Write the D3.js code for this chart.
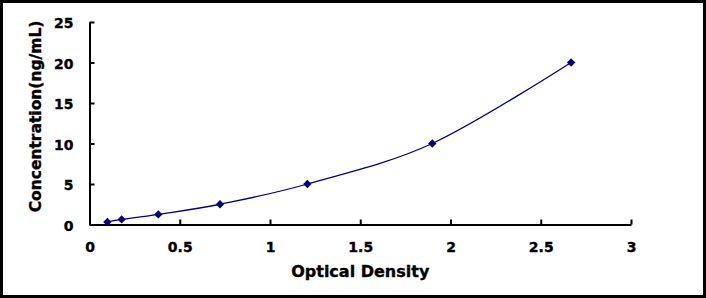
<!DOCTYPE html>
<html>
<head>
<meta charset="utf-8">
<script src="https://cdn.jsdelivr.net/npm/d3@7"></script>
<style>
  body { margin: 0; background: #fff; }
  text { font-family: "DejaVu Sans", sans-serif; font-weight: bold; fill: #000; stroke: #000; stroke-width: 0.35px; }
</style>
</head>
<body>
<div class="chart"></div>
<script>
const width = 706,
    height = 298,
    margin = { top: 22, bottom: 73.5, left: 89.5, right: 75 };

// standard curve readings
const od = [0.099, 0.178, 0.381, 0.723, 1.207, 1.899, 2.668];
const conc = [0.312, 0.625, 1.25, 2.5, 5, 10, 20];
const xTicks = [0, 0.5, 1, 1.5, 2, 2.5, 3];
const yTicks = [0, 5, 10, 15, 20, 25];

const data = od.map((d, i) => ({ x: d, y: conc[i] }));

const svg = d3.select(".chart")
    .append("svg")
    .attr("width", width)
    .attr("height", height)

// outer frame
svg.append("rect")
    .attr("x", 1.5)
    .attr("y", 1.5)
    .attr("width", width - 3)
    .attr("height", height - 3)
    .attr("fill", "none")
    .attr("stroke", "#000")
    .attr("stroke-width", 3)

const xScale = d3.scaleLinear()
    .domain([0, 3])
    .range([margin.left, width - margin.right])

const yScale = d3.scaleLinear()
    .domain([0, 25])
    .range([height - margin.bottom, margin.top])

const xAxis = d3.axisBottom(xScale)
    .tickValues(xTicks)
    .tickSizeInner(-5)
    .tickSizeOuter(0)
    .tickFormat(d3.format("~g"))

const yAxis = d3.axisLeft(yScale)
    .tickValues(yTicks)
    .tickSizeInner(-5)
    .tickSizeOuter(0)
    .tickPadding(16)

const xAxisGroup = svg.append("g")
    .attr("transform", `translate(0, ${height - margin.bottom})`)
    .call(xAxis)

const yAxisGroup = svg.append("g")
    .attr("transform", `translate(${margin.left}, 0)`)
    .call(yAxis)

svg.selectAll(".domain, .tick line")
    .attr("stroke", "#000")
    .attr("stroke-width", 2)

svg.selectAll(".tick text")
    .attr("font-size", 14)
    .attr("font-family", "DejaVu Sans")
    .attr("font-weight", "bold")
    .attr("fill", "#000")

xAxisGroup.selectAll(".tick text").attr("dy", "0.71em").attr("y", 17.5)
yAxisGroup.selectAll(".tick text").attr("dy", "0.42em")

// axis titles
svg.append("text")
    .text("Optical Density")
    .attr("x", (margin.left + width - margin.right) / 2)
    .attr("y", 276.7)
    .attr("text-anchor", "middle")
    .attr("font-size", 16)

svg.append("text")
    .text("Concentration(ng/mL)")
    .attr("transform", `translate(40.7, 116.5) rotate(-90)`)
    .attr("text-anchor", "middle")
    .attr("font-size", 15.5)

const line = d3.line()
    .x(d => xScale(d.x))
    .y(d => yScale(d.y))
    .curve(d3.curveCatmullRom.alpha(0))

svg.append("path")
    .datum(data)
    .attr("d", line)
    .attr("fill", "none")
    .attr("stroke", "#000080")
    .attr("stroke-width", 1.3)

svg.selectAll(".point")
    .data(data)
    .join("path")
    .attr("class", "point")
    .attr("d", d3.symbol(d3.symbolDiamond2, 44))
    .attr("transform", d => `translate(${xScale(d.x)}, ${yScale(d.y)})`)
    .attr("fill", "#000080")
</script>
</body>
</html>
